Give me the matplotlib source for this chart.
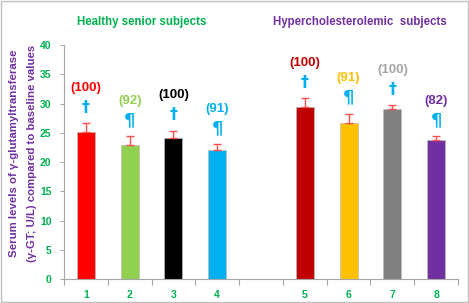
import numpy as np
import matplotlib.pyplot as plt
from matplotlib.patches import Rectangle

# bar groups: slot 5 left empty as a gap between the two subject groups
labels = ["1", "2", "3", "4", "", "5", "6", "7", "8"]
values = [25.1, 22.9, 24.2, 22.1, np.nan, 29.5, 26.7, 29.0, 23.8]
errors = [1.5, 1.5, 1.2, 1.0, np.nan, 1.4, 1.6, 0.7, 0.6]
percents = ["(100)", "(92)", "(100)", "(91)", "", "(100)", "(91)", "(100)", "(82)"]
symbols = ["\u2020", "\u00b6", "\u2020", "\u00b6", "", "\u2020", "\u00b6", "\u2020", "\u00b6"]

bar_colors = ["#FF0000", "#92D050", "#000000", "#00B0F0", "none",
              "#C00000", "#FFC000", "#808080", "#7030A0"]
pct_colors = ["#FF0000", "#92D050", "#000000", "#00B0F0", "none",
              "#C00000", "#FFC000", "#A6A6A6", "#7030A0"]

plt.rcParams["font.family"] = ["Liberation Sans", "DejaVu Sans"]
plt.rcParams["font.weight"] = "bold"

fig = plt.figure(figsize=(4.69, 3.03), dpi=100)
ax = fig.add_axes([0.1365, 0.0782, 0.8401, 0.7733])

x = np.arange(len(labels))
for i in x:
    if np.isnan(values[i]):
        continue
    ax.bar(i, values[i], width=0.41, color=bar_colors[i],
           edgecolor="#BBBBBB", linewidth=0.5, zorder=2)
    ax.errorbar(i, values[i], yerr=[[0], [errors[i]]], fmt="none",
                ecolor="#FF5050", elinewidth=1.0, capsize=3, capthick=1.0, zorder=3)
    top = values[i] + errors[i]
    size = 13 if symbols[i] == "\u00b6" else 11.5
    ax.annotate(symbols[i], (i, top), xytext=(0, 11.5), textcoords="offset points",
                ha="center", va="center", color="#00B0F0", fontsize=size,
                fontweight="bold", family="DejaVu Sans")
    ax.annotate(percents[i], (i, top), xytext=(0, 25.5), textcoords="offset points",
                ha="center", va="center", color=pct_colors[i], fontsize=9.5, fontweight="bold")

ax.set_xlim(-0.5, len(labels) - 0.5)
ax.set_ylim(0, 40)
ax.set_yticks(np.arange(0, 41, 5))
ax.set_xticks(x)
ax.set_xticklabels(labels)
ax.set_xticks(np.arange(-0.5, len(labels), 1), minor=True)
ax.tick_params(axis="x", which="major", length=0, pad=8, labelsize=7.5, labelcolor="#00B050")
ax.tick_params(axis="x", which="minor", length=4, color="#A6A6A6", width=0.8)
ax.tick_params(axis="y", length=3, color="#A6A6A6", width=0.8, labelsize=7.5,
               labelcolor="#00B050", pad=6)

for s in ["top", "right"]:
    ax.spines[s].set_visible(False)
for s in ["left", "bottom"]:
    ax.spines[s].set_color("#A6A6A6")
    ax.spines[s].set_linewidth(0.8)

fig.text(0.030, 0.493, "Serum levels of \u03b3-glutamyltransferase", rotation=90,
         ha="center", va="center", color="#7030A0", fontsize=8.2, fontweight="bold")
fig.text(0.068, 0.493, "(\u03b3-GT; U/L) compared to baseline values", rotation=90,
         ha="center", va="center", color="#7030A0", fontsize=8.2, fontweight="bold")

fig.text(0.303, 0.927, "Healthy senior subjects", ha="center", va="center",
         color="#00B050", fontsize=8.3, fontweight="bold")
fig.text(0.768, 0.927, "Hypercholesterolemic  subjects", ha="center", va="center",
         color="#7030A0", fontsize=8.3, fontweight="bold")

fig.patches.append(Rectangle((0.003, 0.004), 0.994, 0.993, transform=fig.transFigure,
                             fill=False, edgecolor="#BFBFBF", linewidth=1.0))

fig.savefig("out.png", dpi=100)
